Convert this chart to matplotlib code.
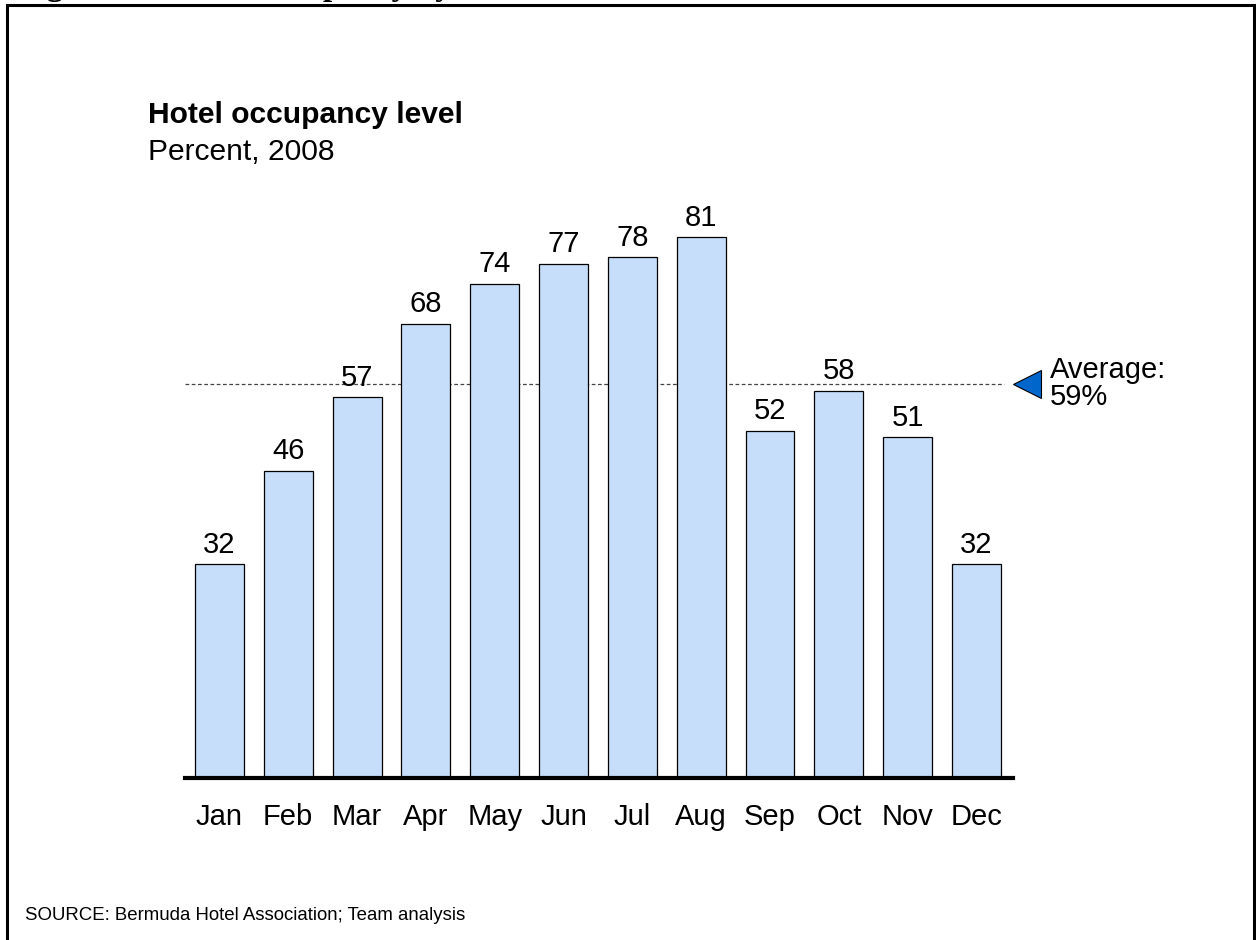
import matplotlib.pyplot as plt
from matplotlib.patches import Rectangle

plt.rcParams['font.family'] = ['Liberation Sans', 'DejaVu Sans']

months = ['Jan', 'Feb', 'Mar', 'Apr', 'May', 'Jun', 'Jul', 'Aug', 'Sep', 'Oct', 'Nov', 'Dec']
occupancy = [32, 46, 57, 68, 74, 77, 78, 81, 52, 58, 51, 32]
average = 59

fig = plt.figure(figsize=(12.56, 9.4), dpi=100)
W, H = 1256, 940
fs = 21

# frame around the exhibit
fig.patches.append(Rectangle((7 / W, -0.05), (1254 - 7) / W, (H - 5) / H + 0.05,
                             transform=fig.transFigure, fill=False,
                             edgecolor='black', linewidth=2.2))

# heading sits mostly above the top edge
fig.text(17 / W, 1 + 5 / H, 'Figure 12: Hotel occupancy by month', fontsize=24,
         fontweight='bold', family=['Liberation Serif', 'DejaVu Serif'],
         ha='left', va='baseline')

ymax = 90
base_px = 778
px_per_unit = 6.68
top_px = base_px - ymax * px_per_unit
ax = fig.add_axes([185 / W, (H - base_px) / H, (1013 - 185) / W, (base_px - top_px) / H])
ax.set_xlim(-0.5, 11.53)
ax.set_ylim(0, ymax)

x = range(len(months))
ax.bar(x, occupancy, width=0.71, color='#C6DEFA', edgecolor='black', linewidth=0.9, zorder=2)
for xi, v in zip(x, occupancy):
    ax.text(xi, v + 0.8, str(v), ha='center', va='bottom', fontsize=fs)

# average line with pointer
ax.plot([-0.5, 11.4], [average, average], color='#444444', linestyle=(0, (3, 2)),
        linewidth=0.9, zorder=1)
ax.plot([11.73], [average], marker='<', markersize=20, color='#0066CC',
        markeredgecolor='black', markeredgewidth=0.8, clip_on=False)
ax.text(12.07, average, 'Average:\n59%', ha='left', va='center', fontsize=fs,
        linespacing=0.95)

for s in ['top', 'right', 'left']:
    ax.spines[s].set_visible(False)
ax.spines['bottom'].set_linewidth(3)
ax.set_yticks([])
ax.set_xticks(list(x))
ax.set_xticklabels(months, fontsize=fs)
ax.tick_params(axis='x', length=0, pad=18)

fig.text(148 / W, 1 - 115 / H, 'Hotel occupancy level', fontsize=21.6,
         fontweight='bold', ha='left', va='center')
fig.text(148 / W, 1 - 152 / H, 'Percent, 2008', fontsize=21.6, ha='left', va='center')
fig.text(25 / W, 1 - 916 / H, 'SOURCE: Bermuda Hotel Association; Team analysis',
         fontsize=13.4, ha='left', va='center')

fig.savefig('out.png', dpi=100)
